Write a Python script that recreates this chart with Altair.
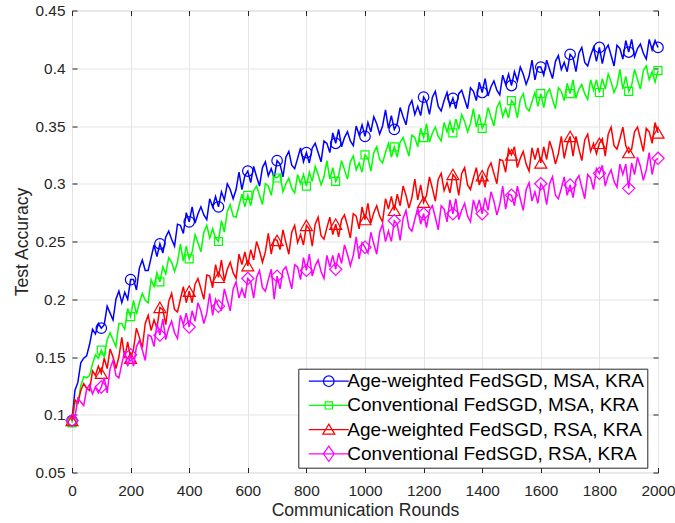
import altair as alt
import pandas as pd

# ---------------- data (accuracy in thousandths) -------------
rounds = list(range(0, 2001, 10))

names = [
    "Age-weighted FedSGD, MSA, KRA",
    "Conventional FedSGD, MSA, KRA",
    "Age-weighted FedSGD, RSA, KRA",
    "Conventional FedSGD, RSA, KRA",
]
colors = ["#0000ff", "#00ff00", "#ff0000", "#ff00ff"]

acc_aw_msa = [95,
    121, 128, 145, 149, 151, 161, 174, 170, 179, 175,
    178, 194, 188, 182, 200, 207, 197, 206, 200, 217,
    217, 208, 227, 234, 225, 225, 236, 247, 237, 248,
    240, 254, 259, 252, 246, 265, 264, 257, 275, 267,
    280, 266, 274, 280, 273, 269, 287, 280, 289, 280,
    293, 286, 300, 295, 287, 295, 310, 295, 307, 311,
    301, 315, 306, 298, 314, 319, 307, 313, 305, 320,
    317, 306, 323, 328, 316, 313, 322, 331, 319, 327,
    318, 331, 335, 327, 319, 337, 335, 327, 344, 335,
    347, 332, 340, 345, 337, 333, 350, 342, 351, 341,
    353, 345, 358, 352, 343, 350, 364, 348, 359, 347,
    352, 366, 358, 351, 367, 372, 360, 367, 359, 375,
    371, 360, 375, 380, 367, 363, 372, 379, 367, 374,
    365, 378, 381, 373, 365, 383, 380, 372, 388, 379,
    391, 376, 384, 389, 381, 377, 394, 386, 395, 385,
    397, 389, 401, 395, 386, 393, 407, 390, 401, 401,
    394, 407, 399, 391, 406, 411, 399, 405, 397, 412,
    409, 397, 413, 418, 405, 402, 411, 418, 406, 418,
    404, 416, 420, 411, 402, 420, 417, 408, 424, 414,
    425, 410, 417, 421, 413, 408, 425, 416, 424, 418]

acc_conv_msa = [93,
    110, 110, 125, 133, 132, 134, 144, 152, 149, 156,
    150, 165, 171, 165, 159, 179, 179, 174, 192, 185,
    199, 187, 197, 205, 199, 197, 217, 211, 223, 215,
    228, 222, 236, 232, 224, 232, 248, 233, 246, 235,
    241, 256, 249, 241, 258, 264, 253, 261, 253, 250,
    268, 258, 276, 282, 272, 271, 281, 291, 280, 290,
    281, 294, 298, 290, 282, 300, 298, 290, 306, 305,
    308, 293, 300, 305, 296, 292, 308, 300, 308, 298,
    310, 302, 315, 308, 299, 306, 320, 304, 314, 302,
    307, 320, 312, 304, 319, 324, 312, 318, 310, 325,
    322, 311, 327, 332, 321, 318, 327, 335, 323, 332,
    323, 336, 340, 332, 324, 342, 340, 332, 348, 340,
    352, 336, 344, 349, 341, 337, 353, 345, 354, 344,
    356, 347, 360, 354, 345, 352, 365, 349, 360, 348,
    353, 366, 358, 350, 366, 371, 358, 365, 357, 372,
    369, 357, 373, 378, 366, 363, 371, 379, 367, 378,
    366, 378, 382, 373, 365, 383, 380, 372, 387, 378,
    390, 374, 382, 386, 378, 373, 390, 381, 390, 379,
    391, 382, 395, 388, 379, 385, 399, 382, 393, 380,
    385, 399, 390, 382, 398, 402, 390, 397, 388, 398]

acc_aw_rsa = [95,
    113, 110, 121, 127, 123, 121, 138, 134, 142, 136,
    149, 140, 157, 150, 140, 150, 167, 149, 163, 149,
    157, 175, 167, 158, 179, 186, 173, 182, 175, 193,
    191, 178, 198, 205, 191, 189, 200, 211, 197, 207,
    197, 213, 218, 209, 200, 221, 220, 210, 230, 219,
    234, 216, 226, 232, 223, 218, 239, 230, 241, 229,
    243, 234, 250, 242, 232, 241, 257, 239, 252, 251,
    243, 260, 249, 239, 258, 264, 249, 256, 247, 264,
    261, 246, 265, 271, 255, 252, 262, 271, 256, 265,
    254, 269, 273, 264, 253, 274, 272, 261, 280, 269,
    283, 266, 275, 281, 272, 267, 287, 278, 289, 277,
    291, 281, 298, 290, 279, 288, 304, 286, 299, 284,
    290, 306, 296, 285, 304, 309, 294, 301, 292, 308,
    305, 290, 309, 314, 299, 295, 305, 314, 299, 307,
    297, 313, 318, 309, 300, 321, 320, 310, 330, 325,
    332, 314, 322, 328, 317, 311, 331, 321, 331, 318,
    332, 321, 337, 329, 317, 326, 341, 322, 334, 341,
    324, 341, 330, 320, 338, 343, 328, 335, 326, 335,
    339, 324, 343, 349, 333, 330, 339, 349, 333, 327,
    330, 345, 349, 339, 328, 348, 345, 335, 353, 344]

acc_conv_rsa = [95,
    98, 114, 111, 108, 122, 126, 118, 124, 119, 124,
    132, 119, 140, 147, 134, 132, 144, 155, 142, 152,
    142, 159, 164, 156, 147, 169, 168, 159, 179, 169,
    183, 165, 175, 181, 171, 166, 186, 178, 188, 176,
    190, 181, 197, 190, 179, 188, 205, 186, 200, 194,
    191, 209, 199, 190, 209, 215, 201, 209, 201, 218,
    215, 201, 219, 225, 210, 207, 217, 226, 200, 220,
    209, 225, 228, 219, 209, 230, 228, 217, 236, 225,
    239, 220, 229, 234, 224, 218, 238, 228, 238, 226,
    240, 231, 247, 239, 229, 238, 254, 235, 249, 245,
    240, 258, 248, 239, 258, 265, 250, 259, 250, 268,
    265, 251, 270, 277, 262, 259, 269, 279, 265, 274,
    262, 277, 281, 271, 260, 281, 278, 267, 286, 274,
    287, 269, 277, 283, 272, 267, 286, 277, 286, 274,
    288, 277, 293, 285, 273, 282, 298, 278, 291, 290,
    281, 298, 287, 277, 295, 301, 285, 293, 283, 300,
    296, 282, 300, 306, 290, 287, 296, 306, 290, 299,
    288, 303, 307, 297, 287, 308, 305, 295, 313, 309,
    316, 298, 307, 312, 302, 297, 317, 308, 317, 296,
    318, 308, 323, 315, 303, 312, 327, 308, 320, 322]

series_values = [acc_aw_msa, acc_conv_msa, acc_aw_rsa, acc_conv_rsa]

x_ticks = [0, 200, 400, 600, 800, 1000, 1200, 1400, 1600, 1800, 2000]
y_ticks = [0.05, 0.1, 0.15, 0.2, 0.25, 0.3, 0.35, 0.4, 0.45]

# ---------------- table ----------------
rows = []
for name, vals in zip(names, series_values):
    for r, v in zip(rounds, vals):
        rows.append({"round": r, "acc": v / 1000.0, "series": name})
df = pd.DataFrame(rows)

# ---------------- styling ----------------
FONT = "Liberation Sans"
DARK = "#262626"
GRID = "#e3e3e3"

marker_shapes = ["circle", "square", "triangle-up", "diamond"]
marker_sizes = [110, 64, 144, 150]
legend_paths = [
    "M-4,0H4M1.06,0A1.06,1.06,0,1,1,-1.06,0A1.06,1.06,0,1,1,1.06,0",
    "M-4,0H4M-0.72,-0.72H0.72V0.72H-0.72Z",
    "M-4,0H4M0,-1.1L1.2,0.9H-1.2Z",
    "M-4,0H4M0,-1.55L1.07,0L0,1.55L-1.07,0Z",
]

x_scale = alt.Scale(domain=[0, 2000], nice=False, zero=False)
y_scale = alt.Scale(domain=[0.05, 0.45], nice=False, zero=False)

x_bottom = alt.Axis(
    orient="bottom", values=x_ticks, format="d", offset=-5, tickSize=5,
    tickColor=DARK, tickWidth=1, domain=False, grid=True, gridColor=GRID,
    gridWidth=1, labelFont=FONT, labelFontSize=15.4, labelColor=DARK,
    labelPadding=10.5, labelFlush=False, labelOverlap=False,
    title="Communication Rounds", titleFont=FONT, titleFontSize=17.6,
    titleFontWeight="normal", titleColor=DARK, titlePadding=3.5,
)
y_left = alt.Axis(
    orient="left", values=y_ticks, format="~g", offset=-5, tickSize=5,
    tickColor=DARK, tickWidth=1, domain=False, grid=True, gridColor=GRID,
    gridWidth=1, labelFont=FONT, labelFontSize=15.4, labelColor=DARK,
    labelPadding=7, labelFlush=False, labelOverlap=False,
    title="Test Accuracy", titleFont=FONT, titleFontSize=17.6,
    titleFontWeight="normal", titleColor=DARK, titlePadding=3.5,
)
x_top = alt.Axis(
    orient="top", values=x_ticks, offset=-5, tickSize=5, tickColor=DARK,
    tickWidth=1, domain=False, grid=False, labels=False, title=None,
)
y_right = alt.Axis(
    orient="right", values=y_ticks, offset=-5, tickSize=5, tickColor=DARK,
    tickWidth=1, domain=False, grid=False, labels=False, title=None,
)

base = alt.Chart(df)

layers = []
for k, name in enumerate(names):
    sel = alt.datum.series == name
    line = base.transform_filter(sel).mark_line(
        strokeWidth=1.5, color=colors[k]
    ).encode(
        x=alt.X("round:Q", scale=x_scale, axis=x_bottom if k == 0 else None),
        y=alt.Y("acc:Q", scale=y_scale, axis=y_left if k == 0 else None),
    )
    pts = base.transform_filter(sel).transform_filter(
        "datum.round % 100 == 0"
    ).mark_point(
        shape=marker_shapes[k], size=marker_sizes[k], filled=False,
        opacity=1, strokeWidth=1.2, color=colors[k],
    ).encode(
        x=alt.X("round:Q", scale=x_scale, axis=x_top if k == 0 else None),
        y=alt.Y("acc:Q", scale=y_scale, axis=y_right if k == 0 else None),
    )
    layers += [line, pts]

leg = alt.Legend(
    orient="none", legendX=226.3, legendY=358.2, title=None,
    labelFont=FONT, labelFontSize=19, labelColor="black", labelLimit=500,
    symbolSize=100, symbolStrokeWidth=1.2, symbolOffset=18, labelOffset=9,
    clipHeight=19, rowPadding=4.2, padding=3, strokeColor=DARK, fillColor="white",
)
legend_layer = base.transform_filter("datum.round < 0").mark_point(
    filled=False, opacity=1, strokeWidth=1.2
).encode(
    x=alt.X("round:Q", scale=x_scale, axis=None),
    y=alt.Y("acc:Q", scale=y_scale, axis=None),
    color=alt.Color("series:N", scale=alt.Scale(domain=names, range=colors), legend=leg),
    shape=alt.Shape("series:N", scale=alt.Scale(domain=names, range=legend_paths), legend=leg),
)
layers.append(legend_layer)

chart = alt.layer(*layers).properties(
    width=586, height=462,
    autosize=alt.AutoSizeParams(type="none"),
    padding={"left": 72, "top": 10.5, "right": 17, "bottom": 50.5},
).configure_view(stroke=DARK, strokeWidth=1).configure(background="white")

chart.save("out.html", embed_options={"renderer": "svg", "actions": False})
